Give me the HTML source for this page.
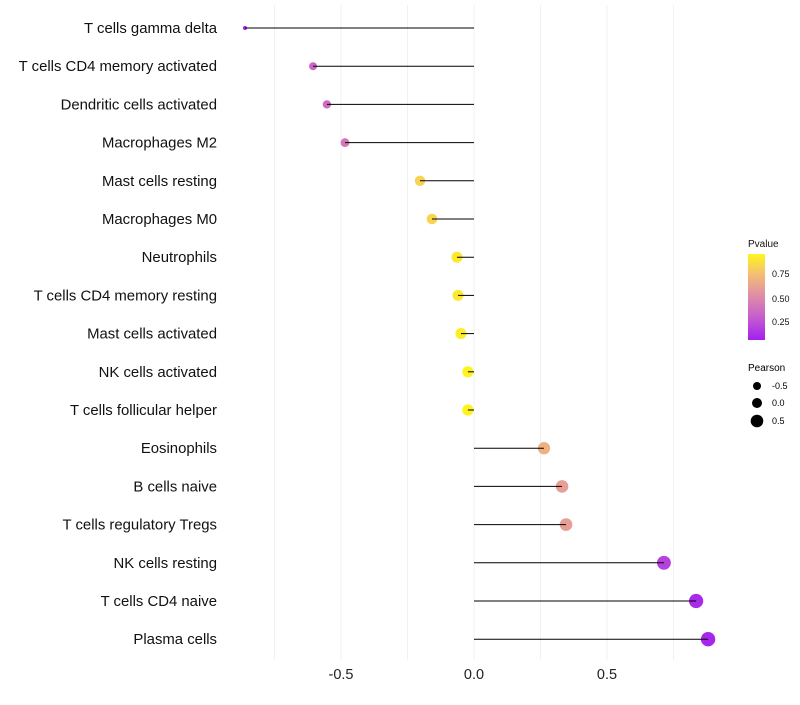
<!DOCTYPE html>
<html><head><meta charset="utf-8"><style>
body{margin:0;background:#fff;font-family:"Liberation Sans",sans-serif}
</style></head><body>
<svg id="c" width="800" height="700" xmlns="http://www.w3.org/2000/svg">
<defs><linearGradient id="pg" x1="0" y1="1" x2="0" y2="0">
<stop offset="0" stop-color="#a21ff0"/><stop offset="0.25" stop-color="#c45ad0"/><stop offset="0.5" stop-color="#de8aa8"/><stop offset="0.75" stop-color="#f2bb78"/><stop offset="1" stop-color="#fff51c"/>
</linearGradient></defs>
<g id="grid"></g><g id="marks"></g><g id="labels"></g>
<g font-size="9" fill="#111">
<text x="748" y="247" font-size="10">Pvalue</text>
<rect x="748" y="254" width="17" height="86" fill="url(#pg)"/>
<text x="772" y="277">0.75</text><text x="772" y="302">0.50</text><text x="772" y="325">0.25</text>
</g>
<g font-size="9" fill="#000">
<text x="748" y="371" font-size="10">Pearson</text>
<circle cx="757" cy="386" r="4"/><text x="772" y="389">-0.5</text>
<circle cx="757" cy="403" r="5"/><text x="772" y="406">0.0</text>
<circle cx="757" cy="421" r="6.3"/><text x="772" y="424">0.5</text>
</g>
</svg>
<script>
const categories=["T cells gamma delta","T cells CD4 memory activated","Dendritic cells activated","Macrophages M2","Mast cells resting","Macrophages M0","Neutrophils","T cells CD4 memory resting","Mast cells activated","NK cells activated","T cells follicular helper","Eosinophils","B cells naive","T cells regulatory  Tregs","NK cells resting","T cells CD4 naive","Plasma cells"];
const pearson=[-0.861,-0.605,-0.553,-0.485,-0.203,-0.158,-0.064,-0.06,-0.049,-0.023,-0.023,0.263,0.331,0.346,0.714,0.835,0.88];
const pvalue=[0.02,0.3,0.35,0.4,0.85,0.86,0.95,0.95,0.97,0.99,0.99,0.7,0.6,0.6,0.15,0.05,0.03];
const xTicks=[-0.5,0,0.5];
const xTickLabels=["-0.5","0.0","0.5"];
const NS="http://www.w3.org/2000/svg";
const xs=v=>474+v*266;
const ys=i=>28+i*38.2;
const stops=[[0,[162,31,240]],[0.25,[196,90,208]],[0.5,[222,138,168]],[0.75,[242,187,120]],[1,[255,245,28]]];
function col(p){for(let k=1;k<stops.length;k++){if(p<=stops[k][0]){const a=stops[k-1],b=stops[k];const t=(p-a[0])/(b[0]-a[0]);return "rgb("+a[1].map((c,j)=>Math.round(c+(b[1][j]-c)*t)).join(",")+")";}}return "rgb(255,245,28)";}
const mn=Math.min(...pearson),mx=Math.max(...pearson);
const rs=v=>2+5.2*Math.sqrt((v-mn)/(mx-mn));
function mk(t,a,parent){const e=document.createElementNS(NS,t);for(const k in a)e.setAttribute(k,a[k]);parent.appendChild(e);return e;}
const grid=document.getElementById('grid'),marks=document.getElementById('marks'),labels=document.getElementById('labels');
for(let g=-0.75;g<=0.76;g+=0.25){const l=mk('line',{x1:xs(g),x2:xs(g),y1:5,y2:660,stroke:'#f1f1f1','stroke-width':1},grid);

}
xTicks.forEach((t,i)=>{const e=mk('text',{x:xs(t),y:679,'text-anchor':'middle','font-size':14.5,fill:'#222'},labels);e.textContent=xTickLabels[i];

});
categories.forEach((c,i)=>{const y=ys(i);
const t=mk('text',{x:217,y:y+5,'text-anchor':'end','font-size':14.9,fill:'#111'},labels);t.textContent=c;


const p=mk('circle',{cx:xs(pearson[i]),cy:y,r:rs(pearson[i]),fill:col(pvalue[i])},marks);


const l=mk('line',{x1:xs(0),x2:xs(pearson[i]),y1:y,y2:y,stroke:'#000','stroke-width':1},marks);

});
</script>
</body></html>
